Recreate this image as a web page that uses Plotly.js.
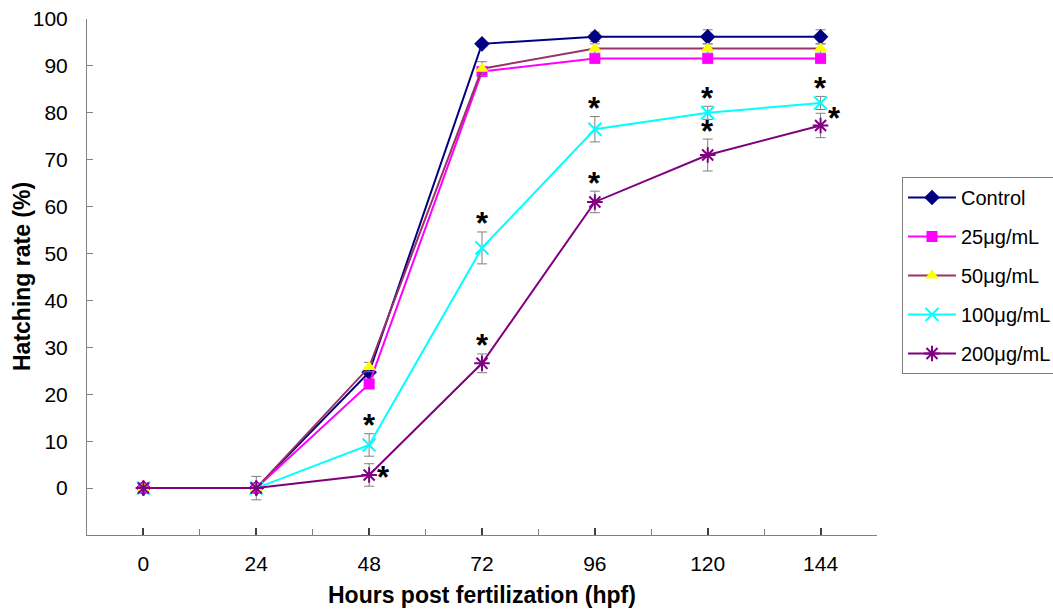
<!DOCTYPE html>
<html>
<head>
<meta charset="utf-8">
<script src="https://cdn.plot.ly/plotly-3.0.1.min.js"></script>
<style>
html,body{margin:0;padding:0;background:#fff;}
#chart{width:1053px;height:609px;}
</style>
</head>
<body>
<div id="chart"></div>
<script>
// ---- data ----
const hours = [0, 24, 48, 72, 96, 120, 144];
const seriesNames = ["Control", "25μg/mL", "50μg/mL", "100μg/mL", "200μg/mL"];
const control   = [0, 0, 24.7, 94.7, 96.2, 96.2, 96.2];
const dose25    = [0, 0, 22.2, 88.8, 91.6, 91.6, 91.6];
const dose50    = [0, 0, 25.8, 89.4, 93.7, 93.7, 93.7];
const dose100   = [0, 0, 9.2, 51.2, 76.5, 80.0, 82.1];
const dose200   = [0, 0, 2.8, 26.6, 61.0, 71.0, 77.3];
const errControl = [0, 0, 1.0, 0.5, 1.0, 1.5, 1.5];
const err25      = [0, 0, 1.0, 0.5, 0.5, 0.5, 0.5];
const err50      = [0, 0, 1.0, 1.5, 1.0, 1.0, 1.0];
const err100     = [0, 0, 2.4, 3.4, 2.7, 1.4, 1.4];
const err200     = [0, 2.5, 2.4, 2.0, 2.3, 3.4, 2.6];
// significance marks: [series index, hour index, placement]
const significance = [
  [3, 2, "top"], [4, 2, "right"],
  [3, 3, "top"], [4, 3, "top"],
  [3, 4, "top"], [4, 4, "top"],
  [3, 5, "top"], [4, 5, "top"],
  [3, 6, "top"], [4, 6, "upright"]
];
const yTicks = [0, 10, 20, 30, 40, 50, 60, 70, 80, 90, 100];
const xTicks = [0, 24, 48, 72, 96, 120, 144];
const xTitle = "Hours post fertilization (hpf)";
const yTitle = "Hatching rate (%)";

// ---- styles ----
const FONT = "Liberation Sans, Arial, sans-serif";
const values = [control, dose25, dose50, dose100, dose200];
const errs = [errControl, err25, err50, err100, err200];
const styles = [
  {line: "#000080", symbol: "diamond", fill: "#000080", mline: "#000080", size: 12, mw: 0},
  {line: "#FF00FF", symbol: "square", fill: "#FF00FF", mline: "#FF00FF", size: 11, mw: 0},
  {line: "#993366", symbol: "triangle-up", fill: "#FFFF00", mline: "#FFFF00", size: 12, mw: 0},
  {line: "#00FFFF", symbol: "x-thin", fill: "#00FFFF", mline: "#00FFFF", size: 13, mw: 2},
  {line: "#800080", symbol: "asterisk", fill: "#800080", mline: "#800080", size: 13, mw: 2}
];

const traces = values.map((v, i) => ({
  type: "scatter",
  mode: "lines+markers",
  name: seriesNames[i],
  x: hours,
  y: v,
  legendgroup: "g" + i,
  line: {color: styles[i].line, width: 2},
  marker: {
    symbol: styles[i].symbol,
    size: styles[i].size,
    color: styles[i].fill,
    line: {color: styles[i].mline, width: styles[i].mw}
  },
  error_y: {
    type: "data",
    array: errs[i],
    visible: true,
    color: "#808080",
    thickness: 1,
    width: 5
  }
}));

const annotations = significance.map(([s, h, place]) => {
  const yv = values[s][h];
  const e = errs[s][h];
  let a = {
    x: hours[h], xref: "x", yref: "y",
    text: "<b>*</b>", showarrow: false,
    font: {family: FONT, size: 31, color: "#000"},
    xanchor: "center", yanchor: "middle"
  };
  if (place === "top") {
    a.y = yv + e; a.yshift = 8;
  } else if (place === "right") {
    a.y = yv; a.xshift = 14; a.yshift = -3;
  } else {
    a.y = yv; a.xshift = 14; a.yshift = 7;
  }
  return a;
});

annotations.push({
  xref: "paper", yref: "paper", x: 0, y: 0.5, xshift: -65,
  xanchor: "center", yanchor: "middle", textangle: -90, showarrow: false,
  text: "<b>" + yTitle + "</b>", font: {family: FONT, size: 23, color: "#000"}
});
annotations.push({
  xref: "paper", yref: "paper", x: 0.5, y: 0, yshift: -60,
  xanchor: "center", yanchor: "middle", showarrow: false,
  text: "<b>" + xTitle + "</b>", font: {family: FONT, size: 23, color: "#000"}
});

const layout = {
  width: 1053, height: 609,
  paper_bgcolor: "#fff", plot_bgcolor: "#fff",
  margin: {l: 87, r: 176, t: 19, b: 74, pad: 0, autoexpand: false},
  font: {family: FONT, color: "#000", size: 21},
  showlegend: true,
  legend: {
    xref: "container", yref: "container",
    x: 0.8566, xanchor: "left", y: 0.7094, yanchor: "top",
    bordercolor: "#808080", borderwidth: 1,
    font: {size: 20, color: "#000"},
    tracegroupgap: 10,
    itemwidth: 48
  },
  xaxis: {
    range: [-12, 156],
    tickvals: xTicks, ticktext: xTicks.map(String),
    ticks: "inside", ticklen: 7, tickwidth: 2, tickcolor: "#404040",
    minor: {dtick: 12, tick0: 0, ticks: "inside", ticklen: 6, tickwidth: 1, tickcolor: "#808080"},
    showline: true, linecolor: "#808080", linewidth: 1,
    showgrid: false, zeroline: false,
    ticklabelstandoff: 10,
    tickfont: {size: 21},
    automargin: false
  },
  yaxis: {
    range: [-10, 100],
    tickvals: yTicks, ticktext: yTicks.map(String),
    ticks: "inside", ticklen: 6, tickwidth: 1, tickcolor: "#808080",
    showline: true, linecolor: "#808080", linewidth: 1,
    showgrid: false, zeroline: false,
    ticklabelstandoff: 14,
    tickfont: {size: 21},
    automargin: false
  },
  annotations: annotations
};

Plotly.newPlot("chart", traces, layout, {displayModeBar: false, staticPlot: true});
</script>
</body>
</html>
